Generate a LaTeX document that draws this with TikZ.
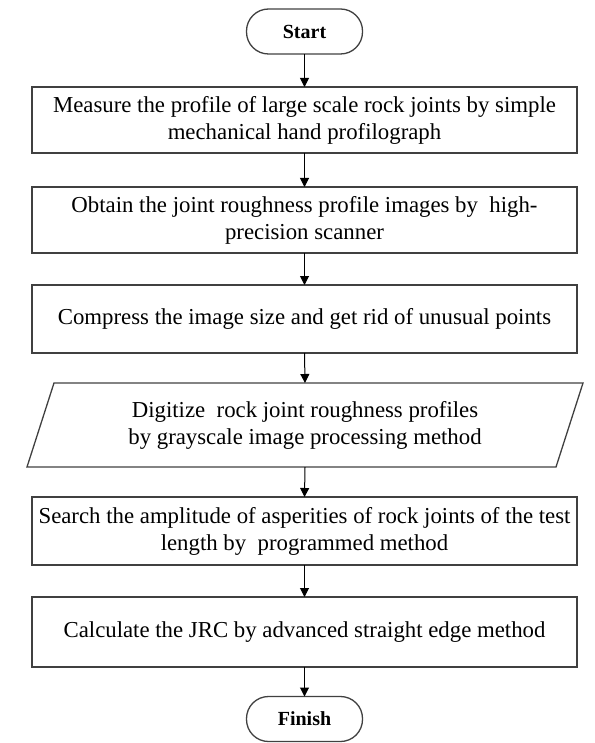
\documentclass[tikz,border=0pt]{standalone}
\usepackage{fontspec}
\setmainfont{Liberation Serif}
\usetikzlibrary{arrows.meta,calc}
\begin{document}
\begin{tikzpicture}[x=1pt,y=-1pt,
  every node/.style={inner sep=0pt, outer sep=0pt},
  box/.style={draw=black!75, line width=1.3pt, minimum width=545pt, minimum height=66pt, align=center, font=\fontsize{22.8}{27}\selectfont},
  term/.style={draw=black!75, line width=1.3pt, rounded corners=22pt, minimum width=116pt, minimum height=45pt, font=\fontsize{20}{24}\selectfont\bfseries},
  iobox/.style={minimum width=529pt, minimum height=84pt, align=center, font=\fontsize{22.8}{27}\selectfont},
  outline/.style={draw=black!75, line width=1.3pt},
  flow/.style={draw=black, line width=1pt, -{Triangle[length=9pt,width=9pt]}}]
\useasboundingbox (0,0) rectangle (594,743);
\node[term] (start) at (304.5,31.5) {Start};
\node[box] (b1) at (304.5,120) {Measure the profile of large scale rock joints by simple\\mechanical hand profilograph};
\node[box] (b2) at (304.5,220) {Obtain the joint roughness profile images by\ \ high-\\precision scanner};
\node[box, minimum height=68pt] (b3) at (304.5,319) {Compress the image size and get rid of unusual points};
\node[iobox] (p) at (305,425) {Digitize\ \ rock joint roughness profiles\\by grayscale image processing method};
\draw[outline] ($(p.north west)+(13.5,0)$) -- ($(p.north east)+(13.5,0)$) -- ($(p.south east)+(-13.5,0)$) -- ($(p.south west)+(-13.5,0)$) -- cycle;
\node[box, minimum height=68pt] (b5) at (304.5,531) {Search the amplitude of asperities of rock joints of the test\\length by\ \ programmed method};
\node[box, minimum height=70pt] (b6) at (304.5,632) {Calculate the JRC by advanced straight edge method};
\node[term] (finish) at (304.5,719) {Finish};
\draw[flow] (start.south) -- (b1.north);
\draw[flow] (b1.south) -- (b2.north);
\draw[flow] (b2.south) -- (b3.north);
\draw[flow] (b3.south) -- (p.north);
\draw[flow] (p.south) -- (b5.north);
\draw[flow] (b5.south) -- (b6.north);
\draw[flow] (b6.south) -- (finish.north);
\end{tikzpicture}
\end{document}
